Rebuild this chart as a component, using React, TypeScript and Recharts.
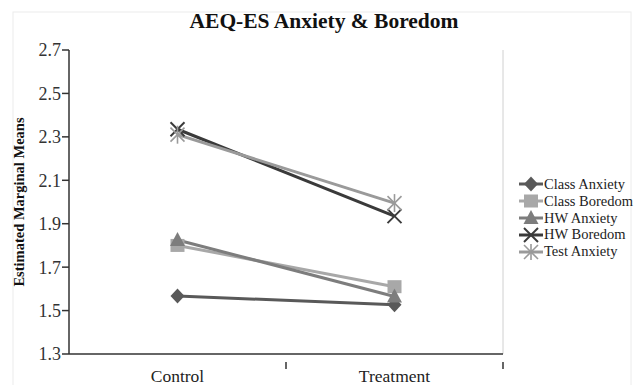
import React from "react";
import { LineChart, Line, XAxis, YAxis, ReferenceLine } from "recharts";

const categories = ["Control", "Treatment"];
const seriesNames = ["Class Anxiety", "Class Boredom", "HW Anxiety", "HW Boredom", "Test Anxiety"];
const classAnxiety = [1.567, 1.527];
const classBoredom = [1.80, 1.61];
const hwAnxiety = [1.825, 1.565];
const hwBoredom = [2.335, 1.935];
const testAnxiety = [2.31, 1.995];
const yTicks = [1.3, 1.5, 1.7, 1.9, 2.1, 2.3, 2.5, 2.7];

const seriesValues = [classAnxiety, classBoredom, hwAnxiety, hwBoredom, testAnxiety];
const colors = ["#595959", "#a8a8a8", "#7d7d7d", "#3a3a3a", "#9a9a9a"];
const shapes = ["diamond", "square", "triangle", "cross", "asterisk"];

const data = categories.map((c, i) => {
  const row: any = { x: i + 0.5, name: c };
  seriesNames.forEach((s, k) => (row[s] = seriesValues[k][i]));
  return row;
});

const FONT = "Liberation Serif, Times New Roman, serif";

function Marker({ shape, cx, cy, color }: { shape: string; cx: number; cy: number; color: string }) {
  switch (shape) {
    case "diamond":
      return <polygon points={`${cx},${cy - 7.5} ${cx + 7},${cy} ${cx},${cy + 7.5} ${cx - 7},${cy}`} fill={color} />;
    case "square":
      return <rect x={cx - 7} y={cy - 6.5} width={14} height={13} fill={color} />;
    case "triangle":
      return <polygon points={`${cx},${cy - 8} ${cx + 7.5},${cy + 6} ${cx - 7.5},${cy + 6}`} fill={color} />;
    case "cross":
      return (
        <g stroke={color} strokeWidth={2}>
          <line x1={cx - 7} y1={cy - 7} x2={cx + 7} y2={cy + 7} />
          <line x1={cx - 7} y1={cy + 7} x2={cx + 7} y2={cy - 7} />
        </g>
      );
    default:
      return (
        <g stroke={color} strokeWidth={1.6}>
          <line x1={cx - 7} y1={cy - 7} x2={cx + 7} y2={cy + 7} />
          <line x1={cx - 7} y1={cy + 7} x2={cx + 7} y2={cy - 7} />
          <line x1={cx} y1={cy - 9} x2={cx} y2={cy + 9} />
        </g>
      );
  }
}

function makeDot(k: number) {
  return (props: any) => (
    <g key={`d-${k}-${props.index}`}>
      <Marker shape={shapes[k]} cx={props.cx} cy={props.cy} color={colors[k]} />
    </g>
  );
}

function XTick(props: any) {
  const { x, y, payload } = props;
  const v = payload.value;
  if (Number.isInteger(v)) {
    if (v === 0) return <g />;
    return <line x1={x} y1={y} x2={x} y2={y + 7} stroke="#333" strokeWidth={1.5} />;
  }
  const label = categories[Math.floor(v)];
  return (
    <text x={x} y={y + 20} textAnchor="middle" fontFamily={FONT} fontSize={17.5} fill="#222">
      {label}
    </text>
  );
}

function LegendBox() {
  return (
    <div
      style={{
        position: "absolute",
        left: 519,
        top: 176,
        width: 120,
        fontFamily: FONT,
        fontSize: 14.5,
        color: "#222",
      }}
    >
      {seriesNames.map((s, k) => (
        <div key={s} style={{ display: "flex", alignItems: "center", height: 16.8, whiteSpace: "nowrap" }}>
          <svg width={24} height={16} style={{ marginRight: 1 }}>
            <line x1={0} y1={8} x2={24} y2={8} stroke={colors[k]} strokeWidth={3} />
            <Marker shape={shapes[k]} cx={12} cy={8} color={colors[k]} />
          </svg>
          <span>{s}</span>
        </div>
      ))}
    </div>
  );
}

export default function App() {
  return (
    <div style={{ position: "absolute", left: 0, top: 0, width: 641, height: 385, background: "#fff" }}>
      <svg width={641} height={385} style={{ position: "absolute", left: 0, top: 0 }}>
        <rect x={13} y={12} width={618} height={380} fill="none" stroke="#ececec" strokeWidth={1} />
      </svg>
      <div style={{ position: "absolute", left: 0, top: 0 }}>
        <LineChart width={641} height={385} data={data} margin={{ top: 50, right: 138, bottom: 0, left: 0 }}>
          <XAxis
            dataKey="x"
            type="number"
            domain={[0, 2]}
            ticks={[0, 0.5, 1, 1.5, 2]}
            height={31}
            tick={<XTick />}
            tickLine={false}
            axisLine={{ stroke: "#333", strokeWidth: 1.5 }}
            interval={0}
          />
          <YAxis
            type="number"
            domain={[1.3, 2.7]}
            ticks={yTicks}
            width={69}
            tickSize={7}
            tickMargin={1}
            tickFormatter={(v: number) => v.toFixed(1)}
            tick={{ fontFamily: FONT, fontSize: 18, fill: "#333" }}
            tickLine={{ stroke: "#333", strokeWidth: 1.5 }}
            axisLine={{ stroke: "#333", strokeWidth: 1.5 }}
            interval={0}
          />
          <ReferenceLine x={2} stroke="#d0d0d0" strokeWidth={1} />
          {seriesNames.map((s, k) => (
            <Line
              key={s}
              dataKey={s}
              name={s}
              stroke={colors[k]}
              strokeWidth={3}
              dot={makeDot(k)}
              activeDot={false}
              isAnimationActive={false}
            />
          ))}
        </LineChart>
      </div>
      <LegendBox />
      <svg width={641} height={385} style={{ position: "absolute", left: 0, top: 0, pointerEvents: "none" }}>
        <text x={324} y={28} textAnchor="middle" fontFamily={FONT} fontWeight="bold" fontSize={21.5} fill="#111">
          AEQ-ES Anxiety &amp; Boredom
        </text>
        <text
          x={24}
          y={202}
          transform="rotate(-90 24 202)"
          textAnchor="middle"
          fontFamily={FONT}
          fontWeight="bold"
          fontSize={14.5}
          fill="#111"
        >
          Estimated Marginal Means
        </text>
      </svg>
    </div>
  );
}
